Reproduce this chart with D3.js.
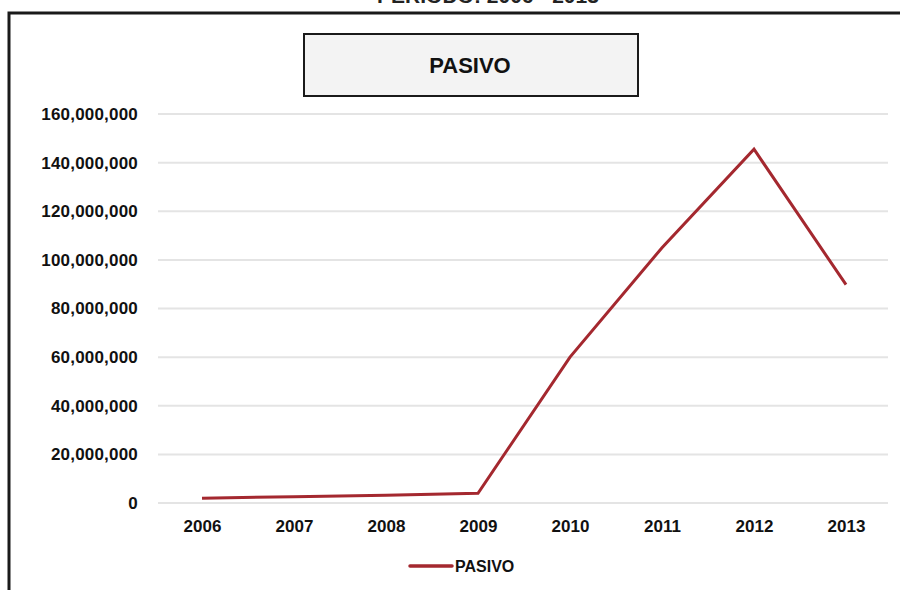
<!DOCTYPE html>
<html>
<head>
<meta charset="utf-8">
<script src="https://cdn.jsdelivr.net/npm/d3@7"></script>
<style>
  html, body { margin: 0; padding: 0; background: #fff; }
  svg { display: block; }
  text { font-family: "Liberation Sans", Arial, sans-serif; }
</style>
</head>
<body>
<svg id="chart" width="900" height="590"></svg>
<script>
const years = ["2006", "2007", "2008", "2009", "2010", "2011", "2012", "2013"];
const pasivo = [2000000, 2600000, 3200000, 4000000, 60000000, 105000000, 145500000, 89800000];
const yTicks = [0, 20000000, 40000000, 60000000, 80000000, 100000000, 120000000, 140000000, 160000000];
const seriesName = "PASIVO";
const chartTitle = "PASIVO";
const topCaption = "PERIODO: 2006 - 2013";

const svg = d3.select("#chart");

// caption at the top (cut off by the page edge, as in the reference)
svg.append("text")
  .attr("x", 488).attr("y", 3)
  .attr("text-anchor", "middle")
  .attr("font-size", 21).attr("font-weight", "bold")
  .attr("fill", "#222")
  .text(topCaption);

// outer frame (extends past right and bottom)
svg.append("rect")
  .attr("x", 9).attr("y", 13)
  .attr("width", 940).attr("height", 640)
  .attr("fill", "#fff")
  .attr("stroke", "#1a1a1a").attr("stroke-width", 3);

// title box
svg.append("rect")
  .attr("x", 304).attr("y", 34)
  .attr("width", 334).attr("height", 62)
  .attr("fill", "#f3f3f3")
  .attr("stroke", "#1a1a1a").attr("stroke-width", 2);
svg.append("text")
  .attr("x", 470).attr("y", 73)
  .attr("text-anchor", "middle")
  .attr("font-size", 22).attr("font-weight", "bold")
  .attr("fill", "#111")
  .text(chartTitle);

const x = d3.scalePoint().domain(years).range([156, 892]).padding(0.5);
const y = d3.scaleLinear().domain([0, 160000000]).range([503, 114]);

// gridlines
svg.append("g")
  .selectAll("line")
  .data(yTicks)
  .join("line")
  .attr("x1", 158).attr("x2", 888)
  .attr("y1", d => y(d)).attr("y2", d => y(d))
  .attr("stroke", "#e4e4e4").attr("stroke-width", 2);

// y axis labels
const yAxis = d3.axisLeft(y).tickValues(yTicks).tickSize(0).tickPadding(0)
  .tickFormat(d => d3.format(",")(d));
const gy = svg.append("g").attr("transform", "translate(138,0)").call(yAxis);
gy.select(".domain").remove();
gy.selectAll("text")
  .attr("font-size", 17).attr("font-weight", "bold")
  .attr("letter-spacing", 0.2)
  .attr("font-family", "'Liberation Sans', Arial, sans-serif")
  .attr("fill", "#111");

// x axis labels
const xAxis = d3.axisBottom(x).tickSize(0).tickPadding(0);
const gx = svg.append("g").attr("transform", "translate(0,520)").call(xAxis);
gx.select(".domain").remove();
gx.selectAll("text")
  .attr("font-size", 17).attr("font-weight", "bold")
  .attr("font-family", "'Liberation Sans', Arial, sans-serif")
  .attr("fill", "#111");

// line
const line = d3.line().x((d, i) => x(years[i])).y(d => y(d));
svg.append("path")
  .datum(pasivo)
  .attr("d", line)
  .attr("fill", "none")
  .attr("stroke", "#a4282f").attr("stroke-width", 3)
  .attr("stroke-linejoin", "miter");

// legend
const lg = svg.append("g").attr("transform", "translate(410,566)");
lg.append("line")
  .attr("x1", 0).attr("x2", 42).attr("y1", 0).attr("y2", 0)
  .attr("stroke", "#a4282f").attr("stroke-width", 3.5).attr("stroke-linecap", "round");
lg.append("text")
  .attr("x", 45).attr("y", 6)
  .attr("font-size", 16).attr("font-weight", "bold")
  .attr("fill", "#111")
  .text(seriesName);
</script>
</body>
</html>
